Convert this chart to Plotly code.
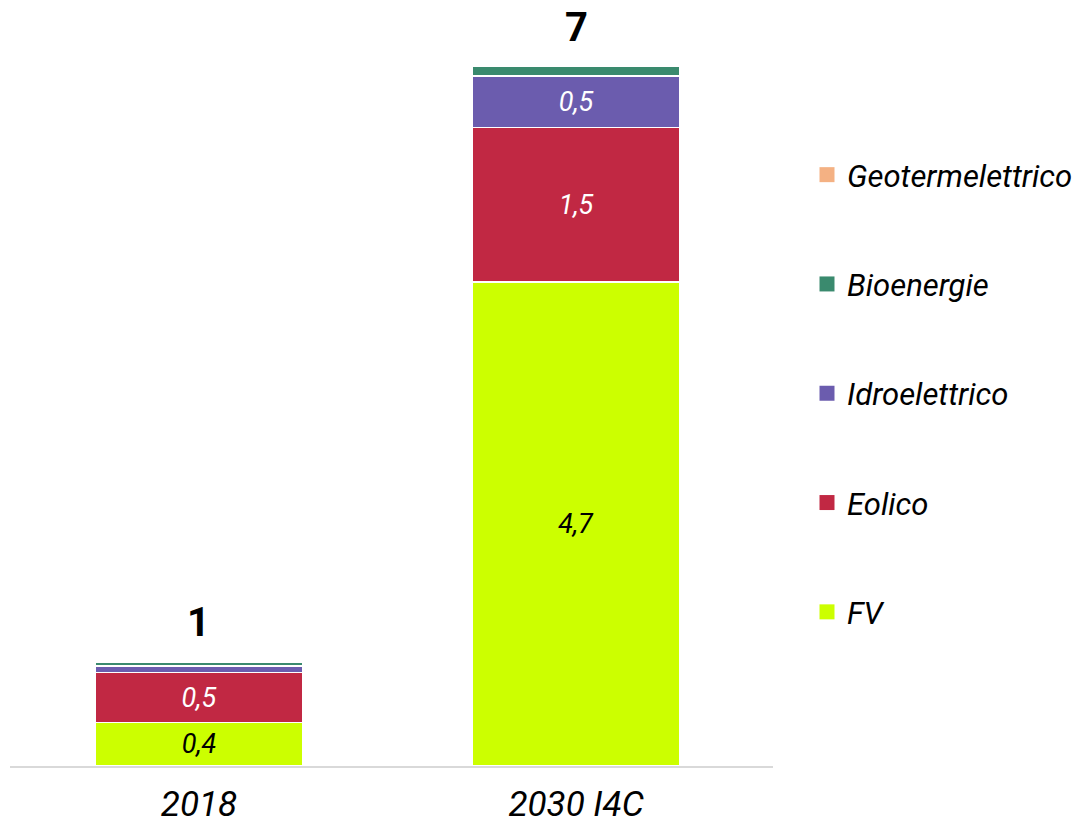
import plotly.graph_objects as go

# Capacità per fonte (GW) per scenario
categories = ["2018", "2030 I4C"]
fv = [0.42, 4.70]
eolico = [0.49, 1.50]
idroelettrico = [0.06, 0.50]
bioenergie = [0.04, 0.09]
geotermelettrico = [0.00, 0.00]

series = [
    ("FV", fv, "#CCFF00", "black"),
    ("Eolico", eolico, "#C12843", "white"),
    ("Idroelettrico", idroelettrico, "#6B5CAE", "white"),
    ("Bioenergie", bioenergie, "#3A8A6E", "white"),
    ("Geotermelettrico", geotermelettrico, "#F4B183", "white"),
]

FONT = "Roboto"


def fmt(v):
    return f"{v:.1f}".replace(".", ",")


fig = go.Figure()

for name, vals, color, txtcolor in series:
    labels = [fmt(v) if v >= 0.3 else "" for v in vals]
    fig.add_trace(go.Bar(
        x=categories,
        y=vals,
        name=name,
        marker=dict(color=color, line=dict(color="white", width=1.5)),
        width=0.552,
        text=labels,
        textposition="inside",
        insidetextanchor="middle",
        textangle=0,
        constraintext="none",
        textfont=dict(family=FONT, size=27, color=txtcolor, style="italic"),
        showlegend=False,
        hoverinfo="skip",
    ))

# legend entries (top to bottom) with larger square symbols
for name, vals, color, txtcolor in reversed(series):
    fig.add_trace(go.Scatter(
        x=[None], y=[None],
        mode="markers",
        name=name,
        legendgroup=name,
        marker=dict(symbol="square", size=15, color=color),
        showlegend=True,
    ))

# totals above each bar
totals = [sum(s[1][i] for s in series) for i in range(len(categories))]
for i, tot in enumerate(totals):
    fig.add_annotation(
        x=i, y=tot, text=f"<b>{tot:.0f}</b>",
        showarrow=False, yanchor="middle", yshift=39,
        font=dict(family=FONT, size=40, color="black"),
    )

W, H = 1084, 827
fig.update_layout(
    width=W, height=H,
    barmode="stack",
    plot_bgcolor="white",
    paper_bgcolor="white",
    margin=dict(l=0, r=0, t=0, b=0, autoexpand=False),
    font=dict(family=FONT, color="black"),
    legend=dict(
        x=807 / W, y=1 - 148 / H, xanchor="left", yanchor="top",
        traceorder="grouped",
        tracegroupgap=66,
        font=dict(family=FONT, size=31, color="black", style="italic"),
        bgcolor="rgba(0,0,0,0)",
        itemclick=False,
    ),
    xaxis=dict(
        type="category",
        domain=[10 / W, 773 / W],
        range=[-0.501, 1.522],
        showline=True, linecolor="#D9D9D9", linewidth=2,
        showgrid=False, zeroline=False, ticks="",
        tickfont=dict(family=FONT, size=35, color="black", style="italic"),
        ticklabelstandoff=6,
        automargin=False,
    ),
    yaxis=dict(
        domain=[(H - 766) / H, 1],
        range=[0, 766 / 103],
        visible=False,
        automargin=False,
    ),
)

fig.write_html("out.html")
